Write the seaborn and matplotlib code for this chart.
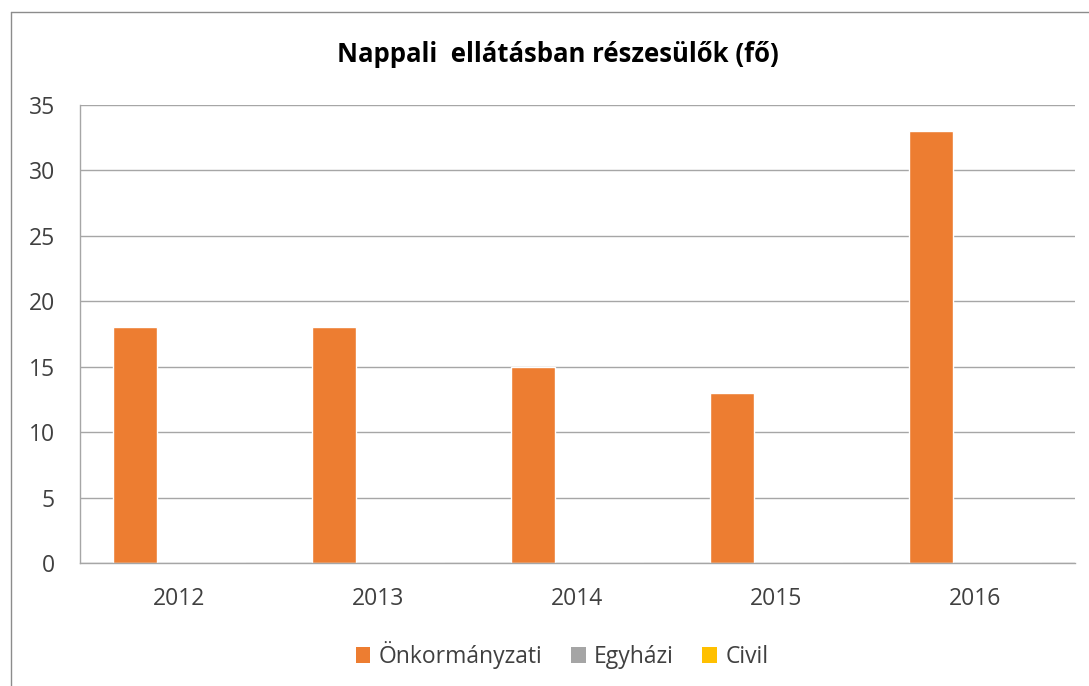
import pandas as pd
import matplotlib.pyplot as plt
import seaborn as sns
from matplotlib.patches import Patch
from matplotlib.lines import Line2D

# chart data
years = ['2012', '2013', '2014', '2015', '2016']
series_names = ['Önkormányzati', 'Egyházi', 'Civil']
onkormanyzati = [18, 18, 15, 13, 33]
egyhazi = [0, 0, 0, 0, 0]
civil = [0, 0, 0, 0, 0]
colors = ['#ED7D31', '#A5A5A5', '#FFC000']

df = pd.DataFrame({
    'year': years * 3,
    'series': [series_names[0]] * 5 + [series_names[1]] * 5 + [series_names[2]] * 5,
    'value': onkormanyzati + egyhazi + civil,
})

sns.set_style('white')
plt.rcParams['font.family'] = ['Open Sans', 'DejaVu Sans']

fig = plt.figure(figsize=(10.89, 6.86), dpi=100)
ax = fig.add_axes([80 / 1089, 1 - 563 / 686, (1075 - 80) / 1089, (563 - 105) / 686])

sns.barplot(data=df, x='year', y='value', hue='series', order=years,
            hue_order=series_names, palette=colors, width=0.665,
            saturation=1, ax=ax, legend=False)

ax.set_xlim(-0.5, len(years) - 0.5)
ax.set_ylim(0, 35)
ax.set_yticks(range(0, 36, 5))
ax.yaxis.grid(True, color='#A6A6A6', linewidth=1)
ax.set_axisbelow(True)
ax.set_xlabel('')
ax.set_ylabel('')

for side in ['top', 'right']:
    ax.spines[side].set_visible(False)
for side in ['left', 'bottom']:
    ax.spines[side].set_color('#A6A6A6')
    ax.spines[side].set_linewidth(1)

ax.tick_params(axis='y', length=7, color='#A6A6A6', labelsize=16.5, labelcolor='#404040', pad=11)
ax.tick_params(axis='x', which='major', length=0, labelsize=16.5, labelcolor='#404040', pad=17)
ax.set_xticks([i - 0.5 for i in range(len(years) + 1)], minor=True)
ax.tick_params(axis='x', which='minor', length=7, color='#A6A6A6')

fig.text(0.512, 1 - 55 / 686, 'Nappali  ellátásban részesülők (fő)', ha='center', va='center',
         fontsize=18.5, fontweight='bold', color='black')

handles = [Patch(facecolor=c, edgecolor='none') for c in colors]
fig.legend(handles, series_names, loc='center', bbox_to_anchor=(0.516, 1 - 655 / 686),
           ncol=3, frameon=False, fontsize=16.5, handlelength=0.65, handleheight=0.65,
           handletextpad=0.35, columnspacing=1.25, labelcolor='#404040')

# outer chart frame (left and top edges visible)
fig.add_artist(Line2D([11 / 1089, 11 / 1089], [0, 1 - 12 / 686], transform=fig.transFigure,
                      color='#8C8C8C', linewidth=1))
fig.add_artist(Line2D([11 / 1089, 1], [1 - 12 / 686, 1 - 12 / 686], transform=fig.transFigure,
                      color='#8C8C8C', linewidth=1))

fig.savefig('out.png', dpi=100)
